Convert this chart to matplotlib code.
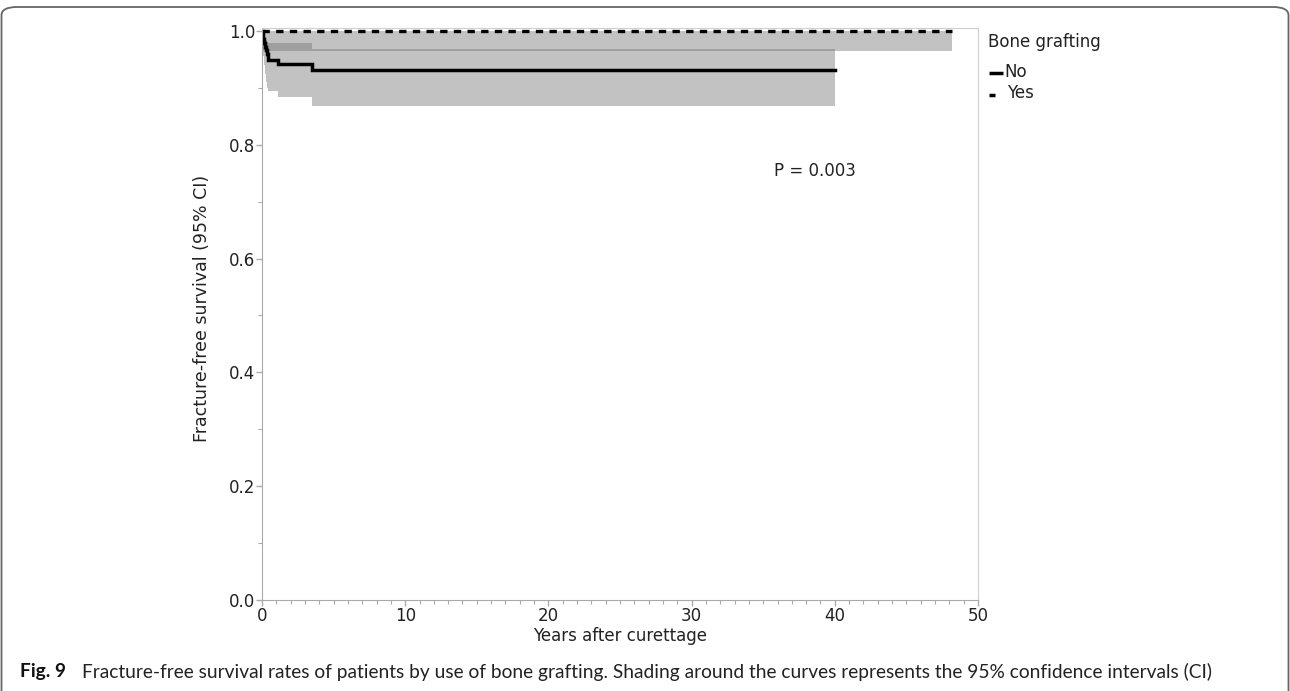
'''Fracture-free survival by bone grafting (Kaplan-Meier style plot)'''

import matplotlib
matplotlib.use('Agg')
import matplotlib.pyplot as plt
from matplotlib.lines import Line2D
from matplotlib.patches import FancyBboxPatch
from matplotlib.ticker import MultipleLocator, FormatStrFormatter

# Group "No" (no bone grafting): step curve and 95% CI
no_years = [0, 0.05, 0.1, 0.15, 0.2, 0.27, 0.35, 0.44, 1.15, 3.47, 40]
no_surv  = [1.0, 0.993, 0.986, 0.979, 0.972, 0.966, 0.960, 0.949, 0.941, 0.931, 0.931]
no_lower = [1.0, 0.975, 0.955, 0.940, 0.925, 0.910, 0.900, 0.894, 0.883, 0.868, 0.868]
no_upper = [1.0, 0.999, 0.996, 0.992, 0.988, 0.984, 0.980, 0.978, 0.978, 0.968, 0.968]

# Group "Yes" (bone grafting): no events
yes_years = [0, 48.2]
yes_surv  = [1.0, 1.0]
yes_lower = [0.965, 0.965]
yes_upper = [1.0, 1.0]

groups = ['No', 'Yes']
p_text = 'P = 0.003'

caption_bold = 'Fig. 9'
caption_text = ('Fracture-free survival rates of patients by use of bone grafting. '
                'Shading around the curves represents the 95% confidence intervals (CI)')

W, H = 1290, 691
fig = plt.figure(figsize=(W / 100, H / 100), dpi=100)
ax = fig.add_axes([262 / W, 1 - 600 / H, 716 / W, 572 / H])

band_color = '#727272'
ax.fill_between(yes_years, yes_lower, yes_upper, step='post',
                color=band_color, alpha=0.43, lw=0)
ax.fill_between(no_years, no_lower, no_upper, step='post',
                color=band_color, alpha=0.43, lw=0)

ax.step(no_years, no_surv, where='post', color='black', lw=2.5,
        solid_joinstyle='miter')
ax.plot(yes_years, yes_surv, color='black', lw=2.4,
        dashes=(2.2, 1.9), dash_capstyle='butt')

ax.set_xlim(0, 50)
ax.set_ylim(0, 1.005)
ax.xaxis.set_major_locator(MultipleLocator(10))
ax.xaxis.set_minor_locator(MultipleLocator(1))
ax.yaxis.set_major_locator(MultipleLocator(0.2))
ax.yaxis.set_minor_locator(MultipleLocator(0.1))
ax.yaxis.set_major_formatter(FormatStrFormatter('%.1f'))

ax.tick_params(which='both', colors='#aaaaaa', labelcolor='#222222',
               labelsize=12, direction='out', pad=1)
ax.tick_params(which='major', length=4, width=1)
ax.tick_params(which='minor', length=3, width=0.8)

for side in ['left', 'bottom']:
    ax.spines[side].set_color('#aaaaaa')
for side in ['top', 'right']:
    ax.spines[side].set_color('#d0d0d0')

ax.set_xlabel('Years after curettage', fontsize=12, color='#222222')
ax.set_ylabel('Fracture-free survival (95% CI)', fontsize=12.5, color='#222222')
ax.xaxis.set_label_coords(0.5, -0.047)
ax.yaxis.set_label_coords(-0.071, 0.51)

ax.text(38.6, 0.754, p_text, fontsize=12, color='#222222',
        ha='center', va='center')

# legend drawn by hand, next to the plot area
fig.text(988 / W, 1 - 42 / H, 'Bone grafting', fontsize=12,
         color='#222222', va='center', ha='left')
fig.add_artist(Line2D([989 / W, 1003 / W], [1 - 73 / H, 1 - 73 / H],
                      color='black', lw=2.5, solid_capstyle='butt'))
fig.text(1004 / W, 1 - 72 / H, groups[0], fontsize=12,
         color='#222222', va='center', ha='left')
fig.add_artist(Line2D([989 / W, 995 / W], [1 - 95 / H, 1 - 95 / H],
                      color='black', lw=2.5, solid_capstyle='butt'))
fig.text(1007 / W, 1 - 93 / H, groups[1], fontsize=12,
         color='#222222', va='center', ha='left')

# caption
fig.text(20 / W, 1 - 672 / H, caption_bold, fontsize=13.8, fontweight='bold',
         family='Lato', color='#111111', va='center', ha='left')
fig.text(82 / W, 1 - 672 / H, caption_text, fontsize=13.8,
         family='Lato', color='#222222', va='center', ha='left')

# rounded frame around the figure
fig.patches.append(FancyBboxPatch((1.5 / W, -0.05), (1287 / W), 1 - 7 / H + 0.05,
                                  boxstyle='round,pad=0,rounding_size=0.012',
                                  transform=fig.transFigure, fill=False,
                                  edgecolor='#666666', lw=1.3))

fig.savefig('out.png', dpi=100)
